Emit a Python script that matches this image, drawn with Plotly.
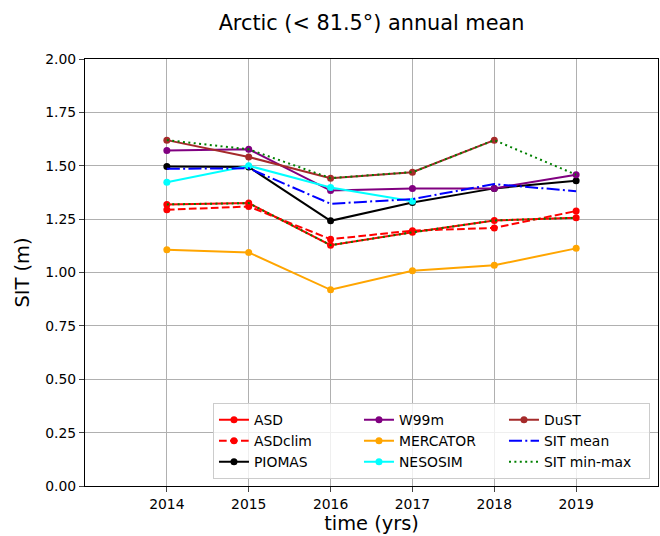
import plotly.graph_objects as go

years = [2014, 2015, 2016, 2017, 2018, 2019]

asd = [1.319, 1.325, 1.128, 1.188, 1.244, 1.256]
asd_clim = [1.294, 1.309, 1.156, 1.196, 1.209, 1.288]
piomas = [1.497, 1.494, 1.242, 1.328, 1.394, 1.430]
w99m = [1.572, 1.577, 1.384, 1.394, 1.394, 1.458]
mercator = [1.106, 1.094, 0.919, 1.008, 1.034, 1.113]
nesosim = [1.423, 1.500, 1.398, 1.334]
dust = [1.620, 1.541, 1.442, 1.470, 1.620]
sit_mean = [1.486, 1.488, 1.322, 1.344, 1.414, 1.381]
sit_min = [1.319, 1.325, 1.128, 1.188, 1.244, 1.256]
sit_max = [1.620, 1.577, 1.442, 1.470, 1.620, 1.458]

ytick_vals = [0, 0.25, 0.5, 0.75, 1.0, 1.25, 1.5, 1.75, 2.0]

# matplotlib-like dash patterns (px)
DASHED = '7.7px,3.3px'
DASHDOT = '13px,3.3px,2px,3.3px'
DOTTED = '2px,3.4px'

fig = go.Figure()

# matplotlib fills legend columns top-down, plotly fills rows -> use legendrank
def add_line(x, y, name, color, dash='solid', markers=True, rank=0, show=True):
    fig.add_trace(go.Scatter(
        x=x, y=y, name=name,
        mode='lines+markers' if markers else 'lines',
        line=dict(color=color, width=2, dash=dash),
        marker=dict(size=7, color=color),
        legendrank=rank, showlegend=show,
    ))

add_line(years, asd, 'ASD', 'red', rank=1)
add_line(years, asd_clim, 'ASDclim', 'red', dash=DASHED, rank=4)
add_line(years, piomas, 'PIOMAS', 'black', rank=7)
add_line(years, w99m, 'W99m', 'purple', rank=2)
add_line(years, mercator, 'MERCATOR', 'orange', rank=5)
add_line(years[:len(nesosim)], nesosim, 'NESOSIM', 'cyan', rank=8)
add_line(years[:len(dust)], dust, 'DuST', 'brown', rank=3)
add_line(years, sit_mean, 'SIT mean', 'blue', dash=DASHDOT, markers=False, rank=6)
add_line(years, sit_min, 'SIT min-max', 'green', dash=DOTTED, markers=False, rank=9)
add_line(years, sit_max, 'SIT min-max', 'green', dash=DOTTED, markers=False, rank=10, show=False)

fig.update_layout(
    width=660, height=536,
    margin=dict(l=85, r=2, t=59, b=50),
    paper_bgcolor='white', plot_bgcolor='white',
    font=dict(family='DejaVu Sans', color='black', size=13.9),
    title=dict(text='Arctic (< 81.5°) annual mean', x=0.5, xref='paper', xanchor='center',
               y=0.958, yanchor='middle', font=dict(size=20.8)),
    legend=dict(orientation='h', x=0.986, xanchor='right', y=0.016, yanchor='bottom',
                entrywidth=100, bgcolor='rgba(255,255,255,0.8)',
                bordercolor='#cccccc', borderwidth=1, font=dict(size=13.9),
                tracegroupgap=0),
)
fig.update_xaxes(
    range=[2013, 2020], tickvals=years, ticks='outside', ticklen=5,
    showline=True, linecolor='black', linewidth=1, mirror=True,
    showgrid=True, gridcolor='#b0b0b0', gridwidth=1, zeroline=False,
    automargin=False,
    title=dict(text='time (yrs)', font=dict(size=19.4), standoff=5),
)
fig.update_yaxes(
    range=[0, 2], tickvals=ytick_vals, tickformat='.2f', ticks='outside', ticklen=5,
    showline=True, linecolor='black', linewidth=1, mirror=True,
    showgrid=True, gridcolor='#b0b0b0', gridwidth=1, zeroline=False,
    automargin=False,
    title=dict(text='SIT (m)', font=dict(size=19.4), standoff=10),
)

fig.write_html("out.html", config={'displayModeBar': False},
               post_script="document.body.style.margin='0';")
